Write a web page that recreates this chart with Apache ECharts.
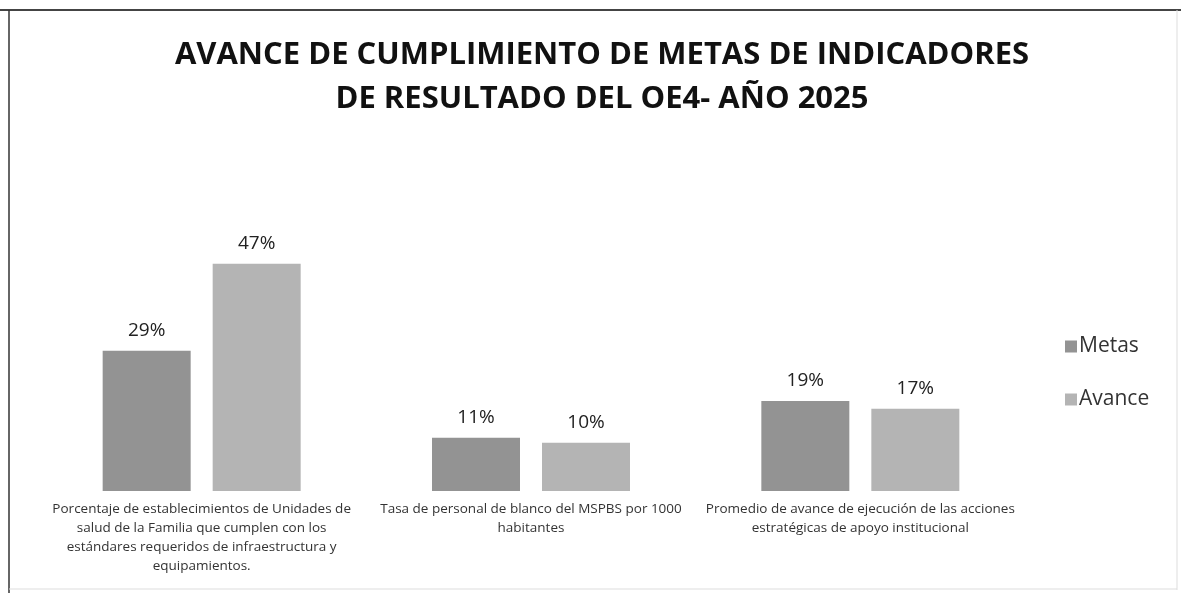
<!DOCTYPE html>
<html>
<head>
<meta charset="utf-8">
<script src="https://cdn.jsdelivr.net/npm/echarts@6/dist/echarts.min.js"></script>
<style>
  html, body { margin: 0; padding: 0; background: #fff; }
  #chart { width: 1181px; height: 593px; }
</style>
</head>
<body>
<div id="chart"></div>
<script>
// indicadores (con saltos de linea como en el original)
const categories = [
  'Porcentaje de establecimientos de Unidades de\nsalud de la Familia que cumplen con los\nestándares requeridos de infraestructura y\nequipamientos.',
  'Tasa de personal de blanco del MSPBS por 1000\nhabitantes',
  'Promedio de avance de ejecución de las acciones\nestratégicas de apoyo institucional'
];
const metas = [29, 11, 18.6];
const avance = [47, 10, 17];

const chart = echarts.init(document.getElementById('chart'));

const labelCfg = {
  show: true,
  position: 'top',
  distance: 11,
  fontFamily: 'Open Sans',
  fontSize: 19,
  color: '#222',
  formatter: (p) => Math.round(p.value) + '%'
};

chart.setOption({
  animation: false,
  backgroundColor: '#fff',
  title: {
    text: 'AVANCE DE CUMPLIMIENTO DE METAS DE INDICADORES\nDE RESULTADO DEL OE4- AÑO 2025',
    left: 597,
    top: 28,
    textAlign: 'center',
    textStyle: {
      fontFamily: 'Open Sans',
      fontWeight: 'bold',
      fontSize: 31,
      lineHeight: 44,
      color: '#111'
    }
  },
  legend: {
    orient: 'vertical',
    left: 1060,
    top: 331,
    itemWidth: 12,
    itemHeight: 12,
    itemGap: 32,
    icon: 'rect',
    textStyle: {
      fontFamily: 'Open Sans',
      fontSize: 21,
      color: '#333',
      padding: [0, 0, 0, -3]
    },
    data: ['Metas', 'Avance']
  },
  grid: {
    left: 37,
    right: 156,
    top: 201,
    bottom: 102,
    containLabel: false
  },
  xAxis: {
    type: 'category',
    data: categories,
    axisLine: { show: false },
    axisTick: { show: false },
    axisLabel: {
      interval: 0,
      margin: 9,
      fontFamily: 'Open Sans',
      fontSize: 13.5,
      lineHeight: 19,
      color: '#333'
    }
  },
  yAxis: {
    type: 'value',
    min: 0,
    max: 60,
    show: false,
    splitLine: { show: false }
  },
  series: [
    {
      name: 'Metas',
      type: 'bar',
      data: metas,
      barWidth: 88,
      barGap: '25%',
      itemStyle: { color: '#939393' },
      label: labelCfg
    },
    {
      name: 'Avance',
      type: 'bar',
      data: avance,
      barWidth: 88,
      itemStyle: { color: '#b4b4b4' },
      label: labelCfg
    }
  ],
  graphic: [
    // marco del grafico
    { type: 'line', shape: { x1: 0, y1: 10, x2: 1181, y2: 10 }, style: { stroke: '#444', lineWidth: 2 } },
    { type: 'line', shape: { x1: 9, y1: 10, x2: 9, y2: 593 }, style: { stroke: '#333', lineWidth: 1.5 } },
    { type: 'line', shape: { x1: 1177, y1: 10, x2: 1177, y2: 590 }, style: { stroke: '#ddd', lineWidth: 1 } },
    { type: 'line', shape: { x1: 9, y1: 589, x2: 1177, y2: 589 }, style: { stroke: '#ddd', lineWidth: 1 } }
  ]
});
</script>
</body>
</html>
